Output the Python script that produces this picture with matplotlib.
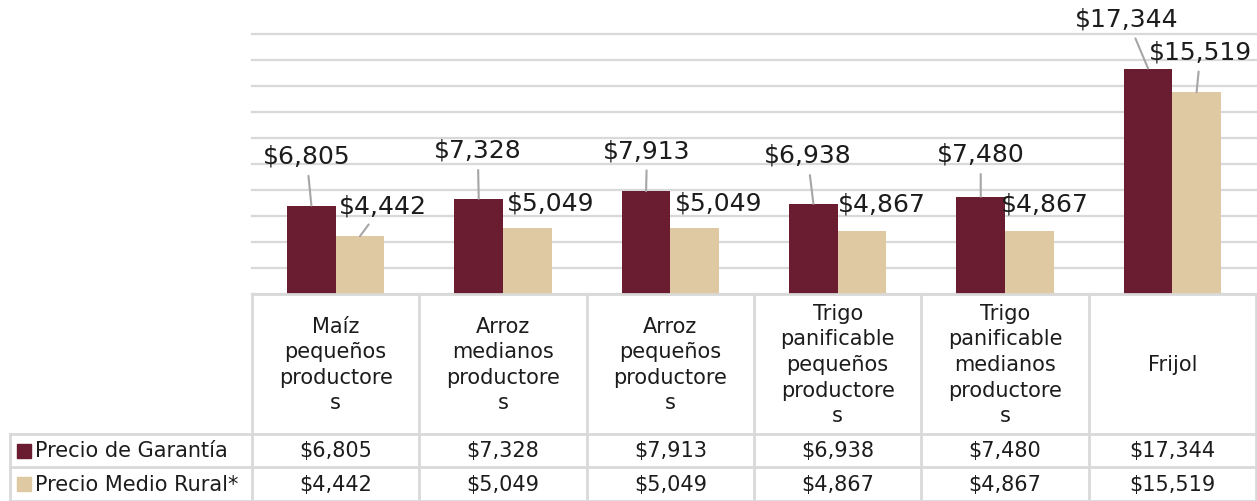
import matplotlib
matplotlib.use("Agg")
import matplotlib.pyplot as plt
import numpy as np

plt.rcParams["font.family"] = ["DejaVu Sans"]
plt.rcParams["text.parse_math"] = False

# data
categories = [
    "Maíz\npequeños\nproductore\ns",
    "Arroz\nmedianos\nproductore\ns",
    "Arroz\npequeños\nproductore\ns",
    "Trigo\npanificable\npequeños\nproductore\ns",
    "Trigo\npanificable\nmedianos\nproductore\ns",
    "Frijol",
]
series_names = ["Precio de Garantía", "Precio Medio Rural*"]
precio_garantia = [6805, 7328, 7913, 6938, 7480, 17344]
precio_rural = [4442, 5049, 5049, 4867, 4867, 15519]

# label placement (pixel offsets from bar top) and leader flags
garantia_offsets = [(-5, 50), (-1, 49), (1, 41), (-6, 49), (0, 43), (-21, 50)]
rural_offsets = [(23, 31), (23, 26), (24, 26), (20, 27), (16, 27), (4, 41)]
garantia_leader = [True, True, True, True, True, True]
rural_leader = [True, False, False, False, False, True]

maroon = "#6a1c31"
beige = "#dfc9a2"
grid_c = "#d9d9d9"
txt_c = "#1c1c1c"


def money(v):
    return "${:,}".format(v)


W, H = 1257, 502


def rect(l, t, r, b):
    return [l / W, 1 - b / H, (r - l) / W, (b - t) / H]


fig = plt.figure(figsize=(W / 100, H / 100), dpi=100)

# bar chart
ax = fig.add_axes(rect(252, 35, 1256, 295))
x = np.arange(len(categories))
w = 0.29
ax.bar(x - w / 2, precio_garantia, w, color=maroon, zorder=3)
ax.bar(x + w / 2, precio_rural, w, color=beige, zorder=3)
ax.set_xlim(-0.5, len(categories) - 0.5)
ax.set_ylim(0, 20000)
ax.set_yticks(np.arange(0, 20001, 2000))
ax.yaxis.grid(True, color=grid_c, lw=1.6, zorder=0)
for gl in ax.get_ygridlines():
    gl.set_clip_on(False)
ax.tick_params(left=False, bottom=False, labelleft=False, labelbottom=False)
for s in ax.spines.values():
    s.set_visible(False)


def add_labels(xs, vals, offs, leaders):
    for xi, v, off, lead in zip(xs, vals, offs, leaders):
        arrow = None
        if lead:
            arrow = dict(arrowstyle="-", color="#a6a6a6", lw=1.5, shrinkA=4, shrinkB=0)
        ax.annotate(money(v), xy=(xi, v), xytext=off, textcoords="offset pixels",
                    ha="center", va="center", fontsize=18, color=txt_c,
                    arrowprops=arrow, zorder=5)


add_labels(x - w / 2, precio_garantia, garantia_offsets, garantia_leader)
add_labels(x + w / 2, precio_rural, rural_offsets, rural_leader)

# data table below
col_px = (1256 - 252) / len(categories)
left_units = (252 - 10) / col_px
tax = fig.add_axes(rect(10, 295, 1256, 502))
x0 = -0.5 - left_units
x1 = len(categories) - 0.5
tax.set_xlim(x0, x1)
rows = [0, 140, 173, 207]
tax.set_ylim(rows[-1], 0)
tax.axis("off")

lc = dict(color=grid_c, lw=2, clip_on=False)
tax.plot([-0.5, x1], [rows[0], rows[0]], **lc)
for r in rows[1:]:
    tax.plot([x0, x1], [r, r], **lc)
for b in np.arange(-0.5, x1 + 0.01, 1.0):
    tax.plot([b, b], [rows[0], rows[-1]], **lc)
tax.plot([x0, x0], [rows[1], rows[-1]], **lc)

for xi, c in zip(x, categories):
    tax.text(xi, (rows[0] + rows[1]) / 2, c, ha="center", va="center",
             fontsize=15, color=txt_c, linespacing=1.35)

row_vals = [precio_garantia, precio_rural]
colors = [maroon, beige]
for k in range(2):
    yc = (rows[k + 1] + rows[k + 2]) / 2
    tax.plot([x0 + 14 / col_px], [yc], marker="s", ms=9.5, color=colors[k],
             ls="none", clip_on=False)
    tax.text(x0 + 25 / col_px, yc, series_names[k], ha="left", va="center",
             fontsize=15, color=txt_c)
    for xi, v in zip(x, row_vals[k]):
        tax.text(xi, yc, money(v), ha="center", va="center", fontsize=15, color=txt_c)

fig.savefig("out.png", dpi=100)
